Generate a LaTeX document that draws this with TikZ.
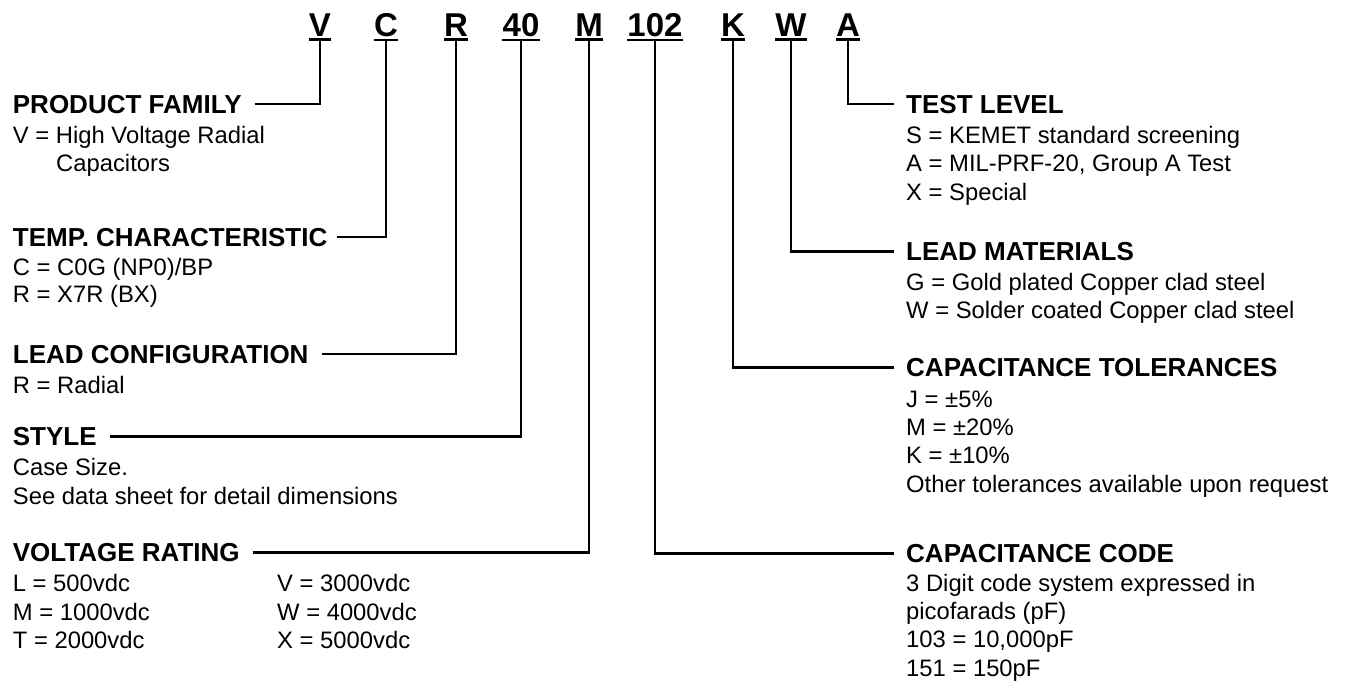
\documentclass[tikz,border=0pt]{standalone}
\usepackage{fontspec}
\setmainfont{Liberation Sans}
\begin{document}
\begin{tikzpicture}[x=1pt,y=-1pt,
  code/.style={font=\bfseries\fontsize{33}{33}\selectfont,inner sep=0pt,anchor=base},
  head/.style={font=\bfseries\fontsize{26}{26}\selectfont,inner sep=0pt},
  body/.style={font=\fontsize{23.8}{28.4}\selectfont,inner sep=0pt,anchor=base west},
  conn/.style={line width=2.4pt,line cap=butt,line join=miter},
  uline/.style={line width=2.4pt}]
\useasboundingbox (0,0) rectangle (1351,681);
% code letters
\foreach \n/\t/\x in {V/V/320, C/C/386, R/R/456, F/40/521, M/M/589, N/102/655, K/K/733, W/W/791, A/A/848}{
  \node[code] (c\n) at (\x,36.7) {\t};
  \draw[uline] ([yshift=-2.6pt]c\n.south west) -- ([yshift=-2.6pt]c\n.south east);
  \coordinate (u\n) at ([yshift=-2.6pt]c\n.south);
}
% left headings
\node[head,anchor=base west] (hPF) at (12.7,113) {PRODUCT FAMILY};
\node[body] (bPF1) at (12.7,143.3) {V = High Voltage Radial};
\node[body] (bPF2) at (56,171.7) {Capacitors};
\node[head,anchor=base west] (hTC) at (12.7,246) {TEMP. CHARACTERISTIC};
\node[body] (bTC1) at (12.7,275) {C = C0G (NP0)/BP};
\node[body] (bTC2) at (12.7,302.5) {R = X7R (BX)};
\node[head,anchor=base west] (hLC) at (12.7,363) {LEAD CONFIGURATION};
\node[body] (bLC1) at (12.7,393) {R = Radial};
\node[head,anchor=base west] (hST) at (12.7,445.5) {STYLE};
\node[body] (bST1) at (12.7,475.5) {Case Size.};
\node[body] (bST2) at (12.7,504) {See data sheet for detail dimensions};
\node[head,anchor=base west] (hVR) at (12.7,561.5) {VOLTAGE RATING};
\node[body] (bVR1) at (12.7,591.5) {L = 500vdc};
\node[body] (bVR2) at (12.7,620) {M = 1000vdc};
\node[body] (bVR3) at (12.7,648.4) {T = 2000vdc};
\node[body] (bVR4) at (277,591.5) {V = 3000vdc};
\node[body] (bVR5) at (277,620) {W = 4000vdc};
\node[body] (bVR6) at (277,648.4) {X = 5000vdc};
% right headings
\node[head,anchor=base west] (hTL) at (906,113) {TEST LEVEL};
\node[body] (bTL1) at (906,143.3) {S = KEMET standard screening};
\node[body] (bTL2) at (906,171.7) {A = MIL-PRF-20, Group A Test};
\node[body] (bTL3) at (906,200) {X = Special};
\node[head,anchor=base west] (hLM) at (906,260.5) {LEAD MATERIALS};
\node[body] (bLM1) at (906,290.5) {G = Gold plated Copper clad steel};
\node[body] (bLM2) at (906,318.9) {W = Solder coated Copper clad steel};
\node[head,anchor=base west] (hCT) at (906,376.5) {CAPACITANCE TOLERANCES};
\node[body] (bCT1) at (906,407) {J = ±5\%};
\node[body] (bCT2) at (906,435.4) {M = ±20\%};
\node[body] (bCT3) at (906,463.8) {K = ±10\%};
\node[body] (bCT4) at (906,492.2) {Other tolerances available upon request};
\node[head,anchor=base west] (hCC) at (906,562.5) {CAPACITANCE CODE};
\node[body] (bCC1) at (906,591) {3 Digit code system expressed in};
\node[body] (bCC2) at (906,619.4) {picofarads (pF)};
\node[body] (bCC3) at (906,647.8) {103 = 10,000pF};
\node[body] (bCC4) at (906,676.2) {151 = 150pF};
% connectors
\draw[conn] ([xshift=13pt]hPF.east) -| (uV);
\draw[conn] ([xshift=9pt]hTC.east) -| (uC);
\draw[conn] ([xshift=13pt]hLC.east) -| (uR);
\draw[conn] ([xshift=13pt]hST.east) -| (uF);
\draw[conn] ([xshift=13pt]hVR.east) -| (uM);
\draw[conn] ([xshift=-12pt]hTL.west) -| (uA);
\draw[conn] ([xshift=-12pt]hLM.west) -| (uW);
\draw[conn] ([xshift=-12pt]hCT.west) -| (uK);
\draw[conn] ([xshift=-12pt]hCC.west) -| (uN);
\end{tikzpicture}
\end{document}
